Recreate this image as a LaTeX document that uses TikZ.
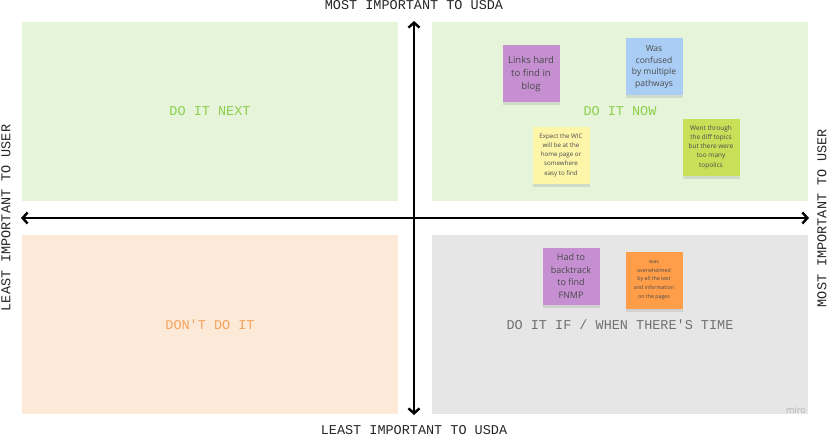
\documentclass[tikz,border=0pt]{standalone}
\usepackage{fontspec}
\setmainfont{Open Sans}
\setmonofont{Liberation Mono}
\usetikzlibrary{arrows.meta,shadows}
\definecolor{nowgreen}{HTML}{E6F4DA}
\definecolor{dontpeach}{HTML}{FDE9D7}
\definecolor{timegray}{HTML}{E6E6E6}
\definecolor{labgreen}{HTML}{8CD04E}
\definecolor{laborange}{HTML}{F5A45E}
\definecolor{labgray}{HTML}{707070}
\definecolor{notepurple}{HTML}{C58FD2}
\definecolor{noteblue}{HTML}{A9CDF4}
\definecolor{noteyellow}{HTML}{FDF5A8}
\definecolor{notelime}{HTML}{C9DF58}
\definecolor{noteorange}{HTML}{FF9D48}
\definecolor{notetext}{HTML}{4A4A4A}
\tikzset{quad/.style={draw=none,minimum width=376pt,minimum height=179pt,inner sep=0pt}}
\tikzset{quadlabel/.style={font=\ttfamily\fontsize{13.5}{14}\selectfont}}
\tikzset{axislabel/.style={font=\ttfamily\fontsize{13.5}{14}\selectfont,text=black!85,inner sep=0pt}}
\tikzset{eaxis/.style={line width=2.4pt,black,{Straight Barb[length=5pt,width=11pt]}-{Straight Barb[length=5pt,width=11pt]}}}
\tikzset{sticky/.style={minimum width=57pt,minimum height=57pt,align=center,inner sep=1pt,text=notetext,
  drop shadow={opacity=0.2,shadow xshift=0pt,shadow yshift=-3pt}}}

\begin{document}
\begin{tikzpicture}[x=1pt,y=-1pt]
  \useasboundingbox[fill=white] (0,0) rectangle (828,436);
  % draw the four quadrants
  \node[quad,fill=nowgreen,anchor=north west] (next) at (22,22) {};
  \node[quad,fill=nowgreen,anchor=north west] (now) at (432,22) {};
  \node[quad,fill=dontpeach,anchor=north west] (dont) at (22,235) {};
  \node[quad,fill=timegray,anchor=north west] (time) at (432,235) {};
  % quadrant titles
  \node[quadlabel,text=labgreen] (nexttitle) at (210,111) {DO IT NEXT};
  \node[quadlabel,text=labgreen] (nowtitle) at (620,111) {DO IT NOW};
  \node[quadlabel,text=laborange] (donttitle) at (210,325) {DON'T DO IT};
  \node[quadlabel,text=labgray] (timetitle) at (620,325) {DO IT IF / WHEN THERE'S TIME};
  % draw the axis
  \coordinate (top) at (414,21);
  \coordinate (bottom) at (414,415);
  \coordinate (left) at (21,218);
  \coordinate (right) at (809,218);
  \draw[eaxis] (bottom) -- (top);
  \draw[eaxis] (left) -- (right);
  \node[axislabel] (usdamost) at (414,5.5) {MOST IMPORTANT TO USDA};
  \node[axislabel] (usdaleast) at (414,430) {LEAST IMPORTANT TO USDA};
  \node[axislabel,rotate=90] (userleast) at (6,218) {LEAST IMPORTANT TO USER};
  \node[axislabel,rotate=90] (usermost) at (822,218) {MOST IMPORTANT TO USER};
  % sticky notes
  \node[sticky,fill=notepurple,font=\fontsize{9.5}{13}\selectfont] (links) at (531,74) {Links hard\\to find in\\blog};
  \node[sticky,fill=noteblue,font=\fontsize{8.5}{11.5}\selectfont] (confused) at (654,67) {Was\\confused\\by multiple\\pathways};
  \node[sticky,fill=noteyellow,font=\fontsize{6.2}{9.3}\selectfont] (expect) at (561,155) {Expect the WIC\\will be at the\\home page or\\somewhere\\easy to find};
  \node[sticky,fill=notelime,font=\fontsize{6.5}{9.3}\selectfont] (topics) at (711,147) {Went through\\the diff topics\\but there were\\too many\\topolics};
  \node[sticky,fill=notepurple,font=\fontsize{9}{12.5}\selectfont] (backtrack) at (571,276) {Had to\\backtrack\\to find\\FNMP};
  \node[sticky,fill=noteorange,font=\fontsize{5.3}{8.8}\selectfont] (overwhelmed) at (654,280) {was\\overwhelmed\\by all the text\\and information\\on the pages};
  % watermark
  \node[text=black!30,font=\fontsize{9}{10}\selectfont] (miro) at (796,410) {miro};
\end{tikzpicture}
\end{document}
